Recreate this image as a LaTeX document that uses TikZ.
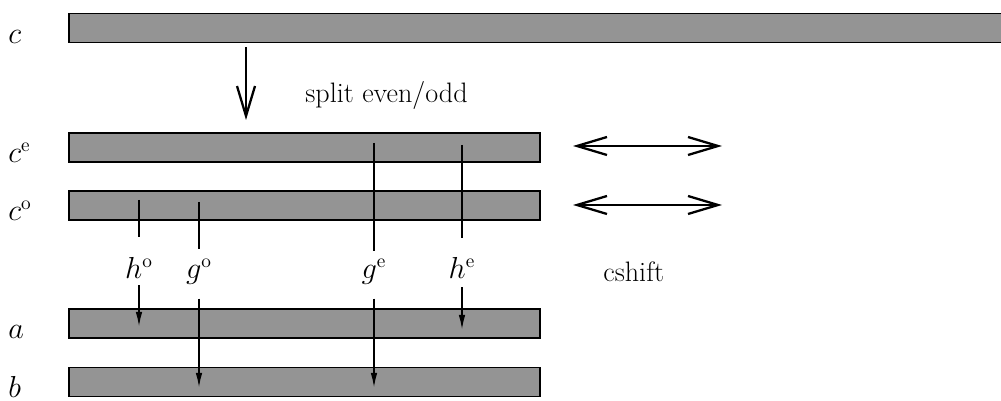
\documentclass[tikz,border=0pt]{standalone}
\usepackage{amsmath}
\usetikzlibrary{arrows.meta}

\begin{document}
\begin{tikzpicture}[
    x=0.02cm, y=-0.02cm,
    >={Latex[length=0.3cm,width=0.13cm]},
    every node/.style={font=\fontsize{16}{19}\selectfont},
    bar/.style={draw, line width=1.1pt, fill=black!42, anchor=west,
                minimum height=0.58cm, inner sep=0pt},
    lbl/.style={anchor=base west, inner sep=0pt},
    tag/.style={anchor=base, inner sep=0pt},
    thinl/.style={line width=0.7pt},
    arr/.style={->, line width=1pt},
    bigarr/.style={line width=1.3pt, -{Straight Barb[length=0.6cm,width=0.36cm]}},
    bothway/.style={line width=1.3pt,
                {Straight Barb[length=0.6cm,width=0.36cm]}-{Straight Barb[length=0.6cm,width=0.36cm]}},
  ]
    \useasboundingbox (0,0) rectangle (1001,401);
    \clip (0,0) rectangle (1001,401);

    % 条带
    \node[bar, minimum width=18.9cm] (c)  at (68,28)    {};
    \node[bar, minimum width=9.42cm] (ce) at (68,147.5) {};
    \node[bar, minimum width=9.42cm] (co) at (68,205.5) {};
    \node[bar, minimum width=9.42cm] (a)  at (68,323.5) {};
    \node[bar, minimum width=9.42cm] (b)  at (68,382)   {};

    % 左侧标签
    \node[lbl] (lc)  at ([xshift=-1.2cm]c.south west)  {$c$};
    \node[lbl] (lce) at ([xshift=-1.2cm]ce.south west) {$c^{\mathrm{e}}$};
    \node[lbl] (lco) at ([xshift=-1.2cm]co.south west) {$c^{\mathrm{o}}$};
    \node[lbl] (la)  at ([xshift=-1.2cm]a.south west)  {$a$};
    \node[lbl] (lb)  at ([xshift=-1.2cm]b.south west)  {$b$};

    % 文字
    \node[lbl] (split)  at (305,103) {split even/odd};
    \node[lbl] (cshift) at (603,282) {cshift};

    % 中间标签
    \node[tag] (ho) at (139,279) {$h^{\mathrm{o}}$};
    \node[tag] (go) at (199,279) {$g^{\mathrm{o}}$};
    \node[tag] (ge) at (374,279) {$g^{\mathrm{e}}$};
    \node[tag] (he) at (462,279) {$h^{\mathrm{e}}$};

    % 端点
    \coordinate (hoT) at (139,200);  \coordinate (hoB) at (139,327);
    \coordinate (goT) at (199,202);  \coordinate (goB) at (199,388);
    \coordinate (geT) at (374,143);  \coordinate (geB) at (374,388);
    \coordinate (heT) at (462,145);  \coordinate (heB) at (462,330);
    \coordinate (sp)  at (246,120);
    \coordinate (sl1) at (573,146);  \coordinate (sr1) at (722,146);
    \coordinate (sl2) at (573,205);  \coordinate (sr2) at (722,205);

    % 箭头
    \draw[bigarr, shorten <=0.08cm] (c.south west -| sp) -- (sp);
    \draw[bothway] (sl1) -- (sr1);
    \draw[bothway] (sl2) -- (sr2);

    \draw[thinl, shorten >=0.42cm] (hoT) -- (ho);
    \draw[thinl, shorten >=0.2cm]  (goT) -- (go);
    \draw[thinl, shorten >=0.16cm] (geT) -- (ge);
    \draw[thinl, shorten >=0.39cm] (heT) -- (he);

    \draw[arr, shorten <=0.12cm] (ho) -- (hoB);
    \draw[arr, shorten <=0.27cm] (go) -- (goB);
    \draw[arr, shorten <=0.27cm] (ge) -- (geB);
    \draw[arr, shorten <=0.16cm] (he) -- (heB);
  \end{tikzpicture}
\end{document}
